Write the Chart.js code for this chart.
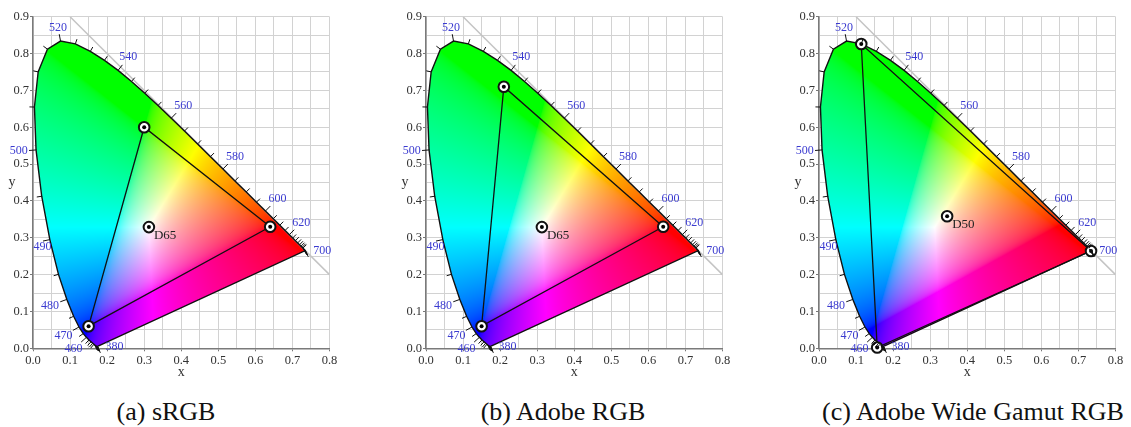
<!DOCTYPE html>
<html lang="en">
<head>
<meta charset="UTF-8">
<title>CIE 1931 gamut comparison</title>
<style>
  body { margin: 0; width: 1131px; height: 427px; overflow: hidden; background: #fff; position: relative; font-family: 'Liberation Serif', serif; }
  .panel { position: absolute; top: 0; width: 360px; height: 390px; }
  .caption { position: absolute; top: 396px; width: 400px; text-align: center; font-size: 26px; line-height: 32px; color: #111; }
</style>
<script src="https://cdn.jsdelivr.net/npm/chart.js"></script>
</head>
<body>
<div class="panel" id="p0"><canvas id="c0" width="360" height="390"></canvas></div>
<div class="panel" id="p1"><canvas id="c1" width="360" height="390"></canvas></div>
<div class="panel" id="p2"><canvas id="c2" width="360" height="390"></canvas></div>
<div class="caption" id="t0"></div>
<div class="caption" id="t1"></div>
<div class="caption" id="t2"></div>

<script>
  // spectral locus (CIE 1931 2°), every 5 nm
  const wavelengths = [380, 385, 390, 395, 400, 405, 410, 415, 420, 425, 430, 435, 440, 445, 450, 455,
    460, 465, 470, 475, 480, 485, 490, 495, 500, 505, 510, 515, 520, 525, 530, 535, 540, 545, 550, 555,
    560, 565, 570, 575, 580, 585, 590, 595, 600, 605, 610, 615, 620, 625, 630, 635, 640, 645, 650, 655,
    660, 665, 670, 675, 680, 685, 690, 695, 700];
  const locusX = [0.1741, 0.1740, 0.1738, 0.1736, 0.1733, 0.1730, 0.1726, 0.1721, 0.1714, 0.1703, 0.1689,
    0.1669, 0.1644, 0.1611, 0.1566, 0.1510, 0.1440, 0.1355, 0.1241, 0.1096, 0.0913, 0.0687, 0.0454, 0.0235,
    0.0082, 0.0039, 0.0139, 0.0389, 0.0743, 0.1142, 0.1547, 0.1929, 0.2296, 0.2658, 0.3016, 0.3373, 0.3731,
    0.4087, 0.4441, 0.4788, 0.5125, 0.5448, 0.5752, 0.6029, 0.6270, 0.6482, 0.6658, 0.6801, 0.6915, 0.7006,
    0.7079, 0.7140, 0.7190, 0.7230, 0.7260, 0.7283, 0.7300, 0.7311, 0.7320, 0.7327, 0.7334, 0.7340, 0.7344,
    0.7346, 0.7347];
  const locusY = [0.0050, 0.0050, 0.0049, 0.0049, 0.0048, 0.0048, 0.0048, 0.0048, 0.0051, 0.0058, 0.0069,
    0.0086, 0.0109, 0.0138, 0.0177, 0.0227, 0.0297, 0.0399, 0.0578, 0.0868, 0.1327, 0.2007, 0.2950, 0.4127,
    0.5384, 0.6548, 0.7502, 0.8120, 0.8338, 0.8262, 0.8059, 0.7816, 0.7543, 0.7243, 0.6923, 0.6589, 0.6245,
    0.5896, 0.5547, 0.5202, 0.4866, 0.4544, 0.4242, 0.3965, 0.3725, 0.3514, 0.3340, 0.3197, 0.3083, 0.2993,
    0.2920, 0.2859, 0.2809, 0.2770, 0.2740, 0.2717, 0.2700, 0.2689, 0.2680, 0.2673, 0.2666, 0.2660, 0.2656,
    0.2654, 0.2653];
  const labeledWavelengths = [380, 460, 470, 480, 490, 500, 520, 540, 560, 580, 600, 620, 700];

  const xTickLabels = ['0.0', '0.1', '0.2', '0.3', '0.4', '0.5', '0.6', '0.7', '0.8'];
  const yTickLabels = ['0.0', '0.1', '0.2', '0.3', '0.4', '0.5', '0.6', '0.7', '0.8', '0.9'];
  const diagonalX = [0.1, 0.8];
  const diagonalY = [0.9, 0.2];

  // one entry per panel: red, green, blue primaries and white point
  const captions = ['(a) sRGB', '(b) Adobe RGB', '(c) Adobe Wide Gamut RGB'];
  const primaryX = [[0.64, 0.30, 0.15], [0.64, 0.21, 0.15], [0.734, 0.114, 0.157]];
  const primaryY = [[0.33, 0.60, 0.06], [0.33, 0.71, 0.06], [0.264, 0.826, 0.002]];
  const whiteX = [0.3127, 0.3127, 0.3457];
  const whiteY = [0.3290, 0.3290, 0.3585];
  const whiteNames = ['D65', 'D65', 'D50'];

  const chartLefts = [32.5, 426, 818.7];
  const captionCenters = [166, 563, 973];

  const SERIF = "'Liberation Serif', 'Times New Roman', serif";
  const BLUE = '#3b3bd0';

  // chromaticity -> display colour, clipped and scaled to full brightness
  function xyToRgb(x, y) {
    const X = x / y, Z = (1 - x - y) / y;
    let r = 3.2406 * X - 1.5372 - 0.4986 * Z;
    let g = -0.9689 * X + 1.8758 + 0.0415 * Z;
    let b = 0.0557 * X - 0.2040 + 1.0570 * Z;
    r = Math.max(r, 0); g = Math.max(g, 0); b = Math.max(b, 0);
    const m = Math.max(r, g, b) || 1;
    return [r / m, g / m, b / m].map(v =>
      255 * (v <= 0.0031308 ? 12.92 * v : 1.055 * Math.pow(v, 1 / 2.4) - 0.055));
  }

  function locusPath(ctx, xs, ys) {
    ctx.beginPath();
    wavelengths.forEach((w, i) => {
      const px = xs.getPixelForValue(locusX[i]), py = ys.getPixelForValue(locusY[i]);
      if (i === 0) ctx.moveTo(px, py); else ctx.lineTo(px, py);
    });
    ctx.closePath();
  }

  const tickLabel = (v, labels) => {
    const k = Math.round(v * 20);
    return k % 2 === 0 ? labels[k / 2] : '';
  };
  const isMajor = v => Math.round(v * 20) % 2 === 0;

  function makeChart(k) {
    const canvas = document.getElementById('c' + k);
    document.getElementById('p' + k).style.left = (chartLefts[k] - 36) + 'px';
    const cap = document.getElementById('t' + k);
    cap.textContent = captions[k];
    cap.style.left = (captionCenters[k] - 200) + 'px';

    const gamutFill = {
      id: 'gamutFill',
      beforeDatasetsDraw(chart) {
        const { ctx, chartArea, scales: { x, y } } = chart;
        const w = Math.ceil(chartArea.width), h = Math.ceil(chartArea.height);
        const off = document.createElement('canvas');
        off.width = w; off.height = h;
        const octx = off.getContext('2d');
        const img = octx.createImageData(w, h);
        for (let py = 0; py < h; py++) {
          const cy = y.getValueForPixel(chartArea.top + py + 0.5);
          if (cy <= 0.001) continue;
          for (let px = 0; px < w; px++) {
            const cx = x.getValueForPixel(chartArea.left + px + 0.5);
            const c = xyToRgb(cx, cy);
            const o = (py * w + px) * 4;
            img.data[o] = c[0]; img.data[o + 1] = c[1]; img.data[o + 2] = c[2]; img.data[o + 3] = 255;
          }
        }
        octx.putImageData(img, 0, 0);
        ctx.save();
        locusPath(ctx, x, y);
        ctx.clip();
        ctx.drawImage(off, chartArea.left, chartArea.top);
        ctx.restore();
      }
    };

    const locusTicks = {
      id: 'locusTicks',
      afterDatasetsDraw(chart) {
        const { ctx, chartArea, scales: { x, y } } = chart;
        const n = wavelengths.length;
        const pt = i => ({ x: x.getPixelForValue(locusX[i]), y: y.getPixelForValue(locusY[i]) });
        const wx = x.getPixelForValue(whiteX[k]), wy = y.getPixelForValue(whiteY[k]);
        ctx.save();
        ctx.strokeStyle = '#111';
        ctx.lineWidth = 1;
        ctx.font = '12px ' + SERIF;
        ctx.fillStyle = BLUE;
        ctx.textAlign = 'center';
        ctx.textBaseline = 'middle';
        for (let i = 0; i < n; i++) {
          const p = pt(i);
          // neighbours at least a few pixels away give a steadier tangent
          let a = i, b = i;
          do { a = (a - 1 + n) % n; } while (Math.hypot(pt(a).x - p.x, pt(a).y - p.y) < 3 && a !== i);
          do { b = (b + 1) % n; } while (Math.hypot(pt(b).x - p.x, pt(b).y - p.y) < 3 && b !== i);
          const pa = pt(a), pb = pt(b);
          let tx = pb.x - pa.x, ty = pb.y - pa.y;
          const tl = Math.hypot(tx, ty) || 1;
          tx /= tl; ty /= tl;
          let nx = ty, ny = -tx;
          if (nx * (p.x - wx) + ny * (p.y - wy) < 0) { nx = -nx; ny = -ny; }
          const labeled = labeledWavelengths.includes(wavelengths[i]);
          const len = labeled ? 7 : 5;
          ctx.beginPath();
          ctx.moveTo(p.x, p.y);
          ctx.lineTo(p.x + nx * len, p.y + ny * len);
          ctx.stroke();
          if (labeled) {
            const txt = String(wavelengths[i]);
            const half = ctx.measureText(txt).width / 2;
            if (i === 0 || i === n - 1) { nx = 1; ny = 0; }
            const d = len + 1 + 9 * Math.abs(nx) + 4 * Math.abs(ny);
            let lx = p.x + nx * d, ly = p.y + ny * d;
            // keep labels off the y axis line: tuck them inside, under the tick
            if (lx - half < chartArea.left && lx + half > chartArea.left - 3) {
              lx = chartArea.left + 0.5 + half;
              ly = p.y + 7;
            }
            ctx.fillText(txt, lx, ly);
          }
        }
        ctx.restore();
      },
      afterDraw(chart) {
        const { ctx, chartArea, scales: { x, y } } = chart;
        ctx.save();
        ctx.fillStyle = '#222';
        ctx.font = '13px ' + SERIF;
        ctx.textAlign = 'left';
        ctx.textBaseline = 'middle';
        ctx.fillText(whiteNames[k], x.getPixelForValue(whiteX[k]) + 5, y.getPixelForValue(whiteY[k]) + 8.5);
        ctx.fillStyle = '#333';
        ctx.font = '14px ' + SERIF;
        ctx.textAlign = 'center';
        ctx.fillText('x', (chartArea.left + chartArea.right) / 2, chartArea.bottom + 24);
        ctx.fillText('y', chartArea.left - 21, (chartArea.top + chartArea.bottom) / 2);
        ctx.restore();
      }
    };

    const prim = [0, 1, 2, 0].map(j => ({ x: primaryX[k][j], y: primaryY[k][j] }));
    const marks = [0, 1, 2].map(j => ({ x: primaryX[k][j], y: primaryY[k][j] }))
      .concat([{ x: whiteX[k], y: whiteY[k] }]);
    const locus = wavelengths.map((w, i) => ({ x: locusX[i], y: locusY[i] }));
    locus.push({ x: locusX[0], y: locusY[0] });

    return new Chart(canvas, {
      type: 'scatter',
      data: {
        datasets: [
          { data: marks, pointRadius: 2, backgroundColor: '#000', borderWidth: 0, clip: false, order: 0 },
          { data: marks, pointRadius: 5.3, backgroundColor: '#fff', borderColor: '#111', borderWidth: 2, clip: false, order: 1 },
          { data: prim, showLine: true, borderColor: '#111', borderWidth: 1.3, pointRadius: 0, order: 2 },
          { data: locus, showLine: true, borderColor: '#111', borderWidth: 1.4, pointRadius: 0, order: 3 },
          { data: diagonalX.map((v, i) => ({ x: v, y: diagonalY[i] })), showLine: true,
            borderColor: '#c4c4c4', borderWidth: 1.5, pointRadius: 0, order: 4 }
        ]
      },
      options: {
        responsive: false,
        animation: false,
        events: [],
        layout: { padding: { left: 6, top: 16.7, right: 27.5, bottom: 11.7 } },
        plugins: { legend: { display: false }, tooltip: { enabled: false } },
        scales: {
          x: {
            type: 'linear', min: 0, max: 0.8,
            afterFit: s => { s.height = 30; },
            ticks: { stepSize: 0.05, maxTicksLimit: 100, autoSkip: false, maxRotation: 0, padding: 2,
              color: '#333', font: { family: SERIF, size: 12.5 }, callback: v => tickLabel(v, xTickLabels) },
            grid: { color: '#d2d2d2', lineWidth: 1, tickLength: 3,
              tickColor: c => isMajor(c.tick.value) ? '#777' : 'rgba(0,0,0,0)' },
            border: { color: '#7a7a7a', width: 1.5 }
          },
          y: {
            type: 'linear', min: 0, max: 0.9,
            afterFit: s => { s.width = 30; },
            ticks: { stepSize: 0.05, maxTicksLimit: 100, autoSkip: false, padding: 1,
              color: '#333', font: { family: SERIF, size: 12.5 }, callback: v => tickLabel(v, yTickLabels) },
            grid: { color: '#d2d2d2', lineWidth: 1, tickLength: 3,
              tickColor: c => isMajor(c.tick.value) ? '#777' : 'rgba(0,0,0,0)' },
            border: { color: '#7a7a7a', width: 1.5 }
          }
        }
      },
      plugins: [gamutFill, locusTicks]
    });
  }

  [0, 1, 2].forEach(makeChart);
</script>
</body>
</html>
